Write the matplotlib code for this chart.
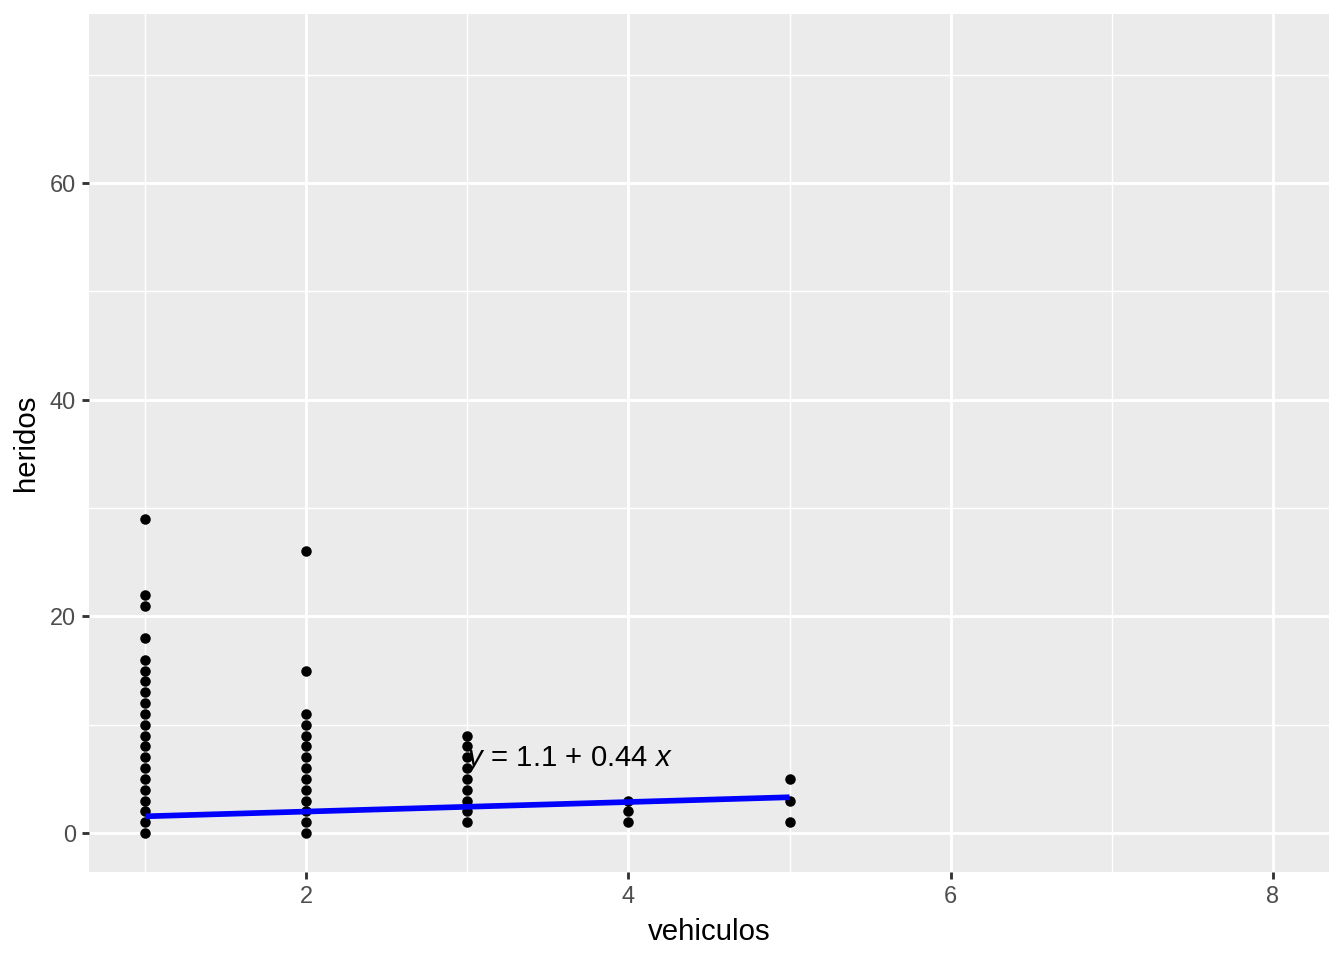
import numpy as np
import matplotlib
matplotlib.use("Agg")
import matplotlib.pyplot as plt
from matplotlib.ticker import MultipleLocator

plt.rcParams['font.family'] = ['Liberation Sans', 'DejaVu Sans']
plt.rcParams['mathtext.fontset'] = 'custom'
plt.rcParams['mathtext.rm'] = 'Liberation Sans'
plt.rcParams['mathtext.it'] = 'Liberation Sans:italic'

# data: heridos observed per number of vehiculos
heridos_v1 = list(range(0, 17)) + [18, 21, 22, 29]
heridos_v2 = list(range(0, 12)) + [15, 26]
heridos_v3 = list(range(1, 10))
heridos_v4 = [1, 2, 3]
heridos_v5 = [1, 3, 5]
vehiculos_levels = [1, 2, 3, 4, 5]

intercept = 1.1
slope = 0.44
eq_label = r"$\it{y}$ = 1.1 + 0.44 $\it{x}$"

xs, ys = [], []
for v, hs in zip(vehiculos_levels, [heridos_v1, heridos_v2, heridos_v3, heridos_v4, heridos_v5]):
    xs += [v] * len(hs)
    ys += hs

W, H = 1344, 960
fig = plt.figure(figsize=(7, 5), dpi=192)
ax = fig.add_axes([89/W, 1-872/H, (1329-89)/W, (872-14)/H])
ax.set_facecolor('#EBEBEB')
for s in ax.spines.values():
    s.set_visible(False)

ax.set_xlim(0.65, 8.35)
ax.set_ylim(-3.6, 75.6)
ax.xaxis.set_major_locator(MultipleLocator(2))
ax.xaxis.set_minor_locator(MultipleLocator(1))
ax.yaxis.set_major_locator(MultipleLocator(20))
ax.yaxis.set_minor_locator(MultipleLocator(10))
ax.grid(which='major', color='white', linewidth=1.07)
ax.grid(which='minor', color='white', linewidth=0.53)
ax.set_axisbelow(True)
ax.tick_params(which='major', length=2.75, width=1.07, color='#333333',
               labelcolor='#4D4D4D', labelsize=8.8, pad=2.2)
ax.tick_params(which='minor', length=0)

ax.scatter(xs, ys, s=15.5, color='black', zorder=3, linewidths=0)

xl = np.array([min(vehiculos_levels), max(vehiculos_levels)], dtype=float)
ax.plot(xl, intercept + slope * xl, color='#0000FF', linewidth=2.13, zorder=4,
        solid_capstyle='butt')

ax.text(2.99, 6.15, eq_label, fontsize=11, ha='left', va='baseline', zorder=5)

ax.set_xlabel('vehiculos', fontsize=11, labelpad=3.5)
ax.set_ylabel('heridos', fontsize=11, labelpad=3.5)

fig.savefig('out.png', dpi=192)
